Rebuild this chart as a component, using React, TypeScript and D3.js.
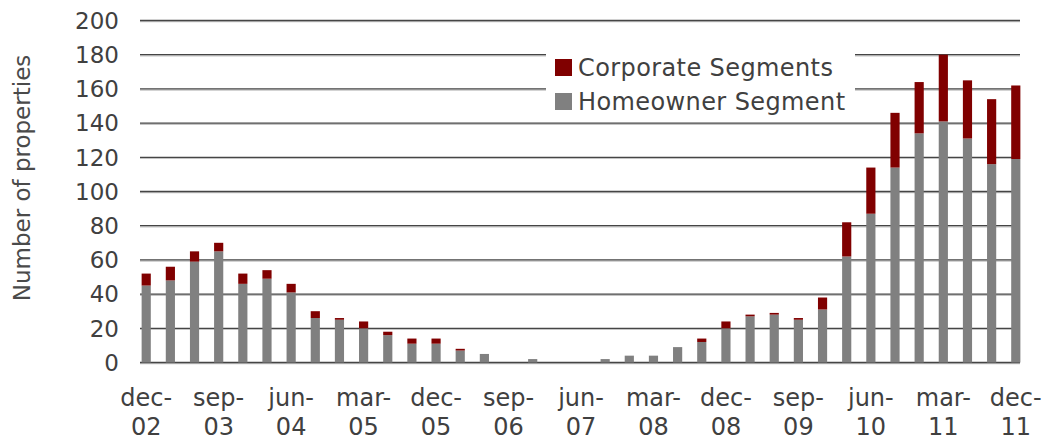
import React, { useRef, useEffect } from "react";
import * as d3 from "d3";

const quarters = [
  "dec-02", "mar-03", "jun-03", "sep-03", "dec-03", "mar-04", "jun-04", "sep-04", "dec-04",
  "mar-05", "jun-05", "sep-05", "dec-05", "mar-06", "jun-06", "sep-06", "dec-06", "mar-07",
  "jun-07", "sep-07", "dec-07", "mar-08", "jun-08", "sep-08", "dec-08", "mar-09", "jun-09",
  "sep-09", "dec-09", "mar-10", "jun-10", "sep-10", "dec-10", "mar-11", "jun-11", "sep-11", "dec-11",
];

const homeowner = [
  45, 48, 59, 65, 46, 49, 41, 26, 25, 20, 16, 11, 11, 7, 5, 0, 2, 0, 0,
  2, 4, 4, 9, 12, 20, 27, 28, 25, 31, 62, 87, 114, 134, 141, 131, 116, 119,
];

const corporate = [
  7, 8, 6, 5, 6, 5, 5, 4, 1, 4, 2, 3, 3, 1, 0, 0, 0, 0, 0,
  0, 0, 0, 0, 2, 4, 1, 1, 1, 7, 20, 27, 32, 30, 39, 34, 38, 43,
];

const yTicks = [0, 20, 40, 60, 80, 100, 120, 140, 160, 180, 200];

const App = () => {
  const chartRef = useRef<HTMLDivElement>(null);

  useEffect(() => {
    const width = 1043;
    const height = 441;
    const marginLeft = 140;
    const marginRight = 23;
    const font = "DejaVu Sans, Verdana, sans-serif";
    const textColor = "#404040";

    const x = d3.scaleBand<string>()
      .domain(quarters)
      .range([marginLeft - 2, width - marginRight + 4])
      .paddingInner(0.62)
      .paddingOuter(0.15);

    const y = d3.scaleLinear()
      .domain([0, 200])
      .range([362.5, 20.5]);

    const svg = d3.create("svg")
      .attr("width", width)
      .attr("height", height)
      .attr("viewBox", [0, 0, width, height])
      .style("display", "block")
      .style("font-family", font);

    // gridlines: dark line with a light shadow under it
    const grid = svg.append("g");
    yTicks.forEach(t => {
      grid.append("line")
        .attr("x1", marginLeft).attr("x2", width - marginRight)
        .attr("y1", y(t) + 1.2).attr("y2", y(t) + 1.2)
        .attr("stroke", "#c4c4c4").attr("stroke-width", 1.2);
      grid.append("line")
        .attr("x1", marginLeft).attr("x2", width - marginRight)
        .attr("y1", y(t)).attr("y2", y(t))
        .attr("stroke", "#454545").attr("stroke-width", 1.3);
    });

    // y tick labels
    svg.append("g")
      .selectAll("text")
      .data(yTicks)
      .join("text")
      .attr("x", 119)
      .attr("y", d => y(d))
      .attr("dy", "0.36em")
      .attr("text-anchor", "end")
      .attr("fill", textColor)
      .style("font-size", "23px")
      .text(d => d);

    svg.append("text")
      .attr("transform", "translate(22,178) rotate(-90)")
      .attr("dy", "0.36em")
      .attr("text-anchor", "middle")
      .attr("fill", "#4a4a4a")
      .style("font-size", "23px")
      .text("Number of properties");

    // legend box hides the gridlines behind it
    svg.append("rect")
      .attr("x", 546).attr("y", 44)
      .attr("width", 309).attr("height", 74)
      .attr("fill", "#fff");

    // stacked bars
    const bars = svg.append("g");
    quarters.forEach((q, i) => {
      const h = homeowner[i];
      const c = corporate[i];
      if (h > 0) {
        bars.append("rect")
          .attr("x", x(q)!)
          .attr("width", x.bandwidth())
          .attr("y", y(h))
          .attr("height", y(0) - y(h))
          .attr("fill", "#808080");
      }
      if (c > 0) {
        bars.append("rect")
          .attr("x", x(q)!)
          .attr("width", x.bandwidth())
          .attr("y", y(h + c))
          .attr("height", y(h) - y(h + c))
          .attr("fill", "#800000");
      }
    });

    // x labels every third quarter, wrapped in two lines
    const xLabels = svg.append("g");
    quarters.forEach((q, i) => {
      if (i % 3 !== 0) return;
      const cx = x(q)! + x.bandwidth() / 2;
      const [m, yr] = q.split("-");
      const t = xLabels.append("text")
        .attr("text-anchor", "middle")
        .attr("fill", textColor)
        .style("font-size", "24px");
      t.append("tspan").attr("x", cx).attr("y", 406).text(m + "-");
      t.append("tspan").attr("x", cx).attr("y", 435).text(yr);
    });

    // legend
    const legend = [
      { name: "Corporate Segments", color: "#800000" },
      { name: "Homeowner Segment", color: "#808080" },
    ];
    legend.forEach((d, i) => {
      const cy = 67 + i * 34;
      svg.append("rect")
        .attr("x", 555).attr("y", cy - 8)
        .attr("width", 17).attr("height", 17)
        .attr("fill", d.color);
      svg.append("text")
        .attr("x", 578).attr("y", cy)
        .attr("dy", "0.36em")
        .attr("fill", textColor)
        .style("font-size", "24px")
        .style("letter-spacing", "0.4px")
        .text(d.name);
    });

    chartRef.current!.innerHTML = "";
    chartRef.current!.appendChild(svg.node()!);
  }, []);

  return <div ref={chartRef} style={{ position: "absolute", left: 0, top: 0 }} />;
};

export default App;
